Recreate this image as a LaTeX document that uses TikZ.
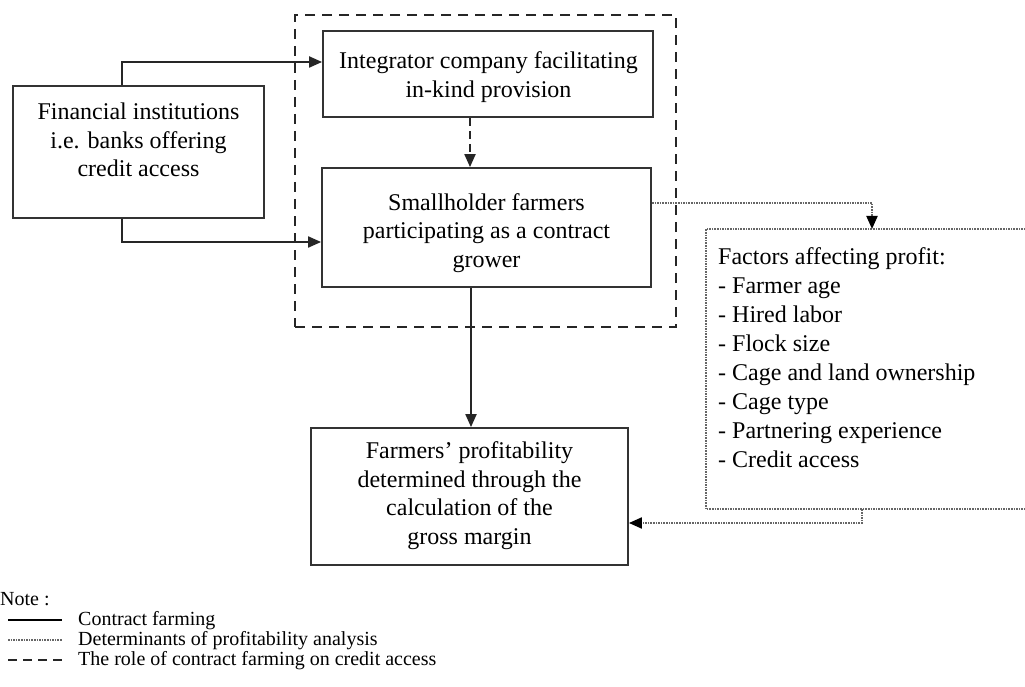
\documentclass[tikz,border=0pt]{standalone}
\usepackage{fontspec}
\setmainfont{Liberation Serif}
\usetikzlibrary{arrows.meta}
\begin{document}
\begin{tikzpicture}[x=1pt,y=-1pt,
  box/.style={draw=black!80, line width=1.8pt, inner sep=0pt},
  txt/.style={align=center, inner sep=0pt, font=\fontsize{24}{28.5}\selectfont},
  listtxt/.style={align=left, inner sep=0pt, anchor=west, font=\fontsize{24}{29}\selectfont},
  legtxt/.style={inner sep=0pt, anchor=west, text height=13pt, text depth=3pt, font=\fontsize{20}{20}\selectfont},
  tip/.style={-{Triangle[length=13pt,width=11pt]}},
  solidarrow/.style={tip, draw=black!85, line width=2pt},
  dasharrow/.style={tip, draw=black!85, line width=2pt, dash pattern=on 8pt off 5pt},
  dotline/.style={draw=black!60, line width=2pt, dash pattern=on 1.6pt off 1pt},
  dotarrow/.style={dotline, -{Triangle[length=13pt,width=11pt,black]}},
  groupbox/.style={draw=black!85, line width=2.5pt, dash pattern=on 10pt off 7pt, inner sep=0pt}
]
\useasboundingbox (0,0) rectangle (1025,687);

% group (dashed) box
\node[groupbox, minimum width=381pt, minimum height=312pt] (grp) at (485.5,171) {};

% boxes
\node[box, minimum width=251pt, minimum height=132pt] (fin) at (138.5,152) {};
\node[txt] (fint) at (138.5,140) {Financial institutions\\i.e. banks offering\\credit access};

\node[box, fill=white, minimum width=330pt, minimum height=86pt] (int) at (488,74) {};
\node[txt] (intt) at (488.5,77) {Integrator company facilitating\\in-kind provision};

\node[box, fill=white, minimum width=329pt, minimum height=119pt] (sm) at (486.5,227.5) {};
\node[txt] (smt) at (486.5,233) {Smallholder farmers\\participating as a contract\\grower};

\node[box, minimum width=317pt, minimum height=137pt] (pr) at (469.5,496.5) {};
\node[txt] (prt) at (469.5,495.5) {Farmers’ profitability\\determined through the\\calculation of the\\gross margin};

% factors box (open to the right edge)
\node[inner sep=0pt, anchor=north west, minimum width=319pt, minimum height=280pt] (fac) at (706,229) {};
\draw[dotline] (fac.north east) -- (fac.north west) -- (fac.south west) -- (fac.south east);
\node[listtxt] (fact) at (718,358) {Factors affecting profit:\\- Farmer age\\- Hired labor\\- Flock size\\- Cage and land ownership\\- Cage type\\- Partnering experience\\- Credit access};

% connectors
\coordinate (f1) at (122,62);
\coordinate (f2) at (122,242);
\draw[solidarrow] (fin.north -| f1) -- (f1) -- (int.west |- f1);
\draw[solidarrow] (fin.south -| f2) -- (f2) -- (sm.west |- f2);

\coordinate (c1) at (470,0);
\draw[dasharrow] (int.south -| c1) -- (sm.north -| c1);

\coordinate (c2) at (471,0);
\draw[solidarrow] (sm.south -| c2) -- (pr.north -| c2);

\coordinate (d1) at (872,203);
\draw[dotarrow] (sm.east |- d1) -- (d1) -- (d1 |- fac.north);

\coordinate (d2) at (862,523);
\draw[dotarrow] (fac.south -| d2) -- (d2) -- (pr.east |- d2);

% legend
\node[legtxt] (note) at (0,600) {Note :};
\coordinate (l1a) at (8,620); \coordinate (l1b) at (62,620);
\coordinate (l2a) at (8,640); \coordinate (l2b) at (62,640);
\coordinate (l3a) at (8,660); \coordinate (l3b) at (62,660);
\draw[draw=black, line width=2pt] (l1a) -- (l1b);
\draw[dotline, line width=1.6pt] (l2a) -- (l2b);
\draw[draw=black!85, line width=2pt, dash pattern=on 9pt off 6pt] (l3a) -- (l3b);
\node[legtxt] (lg1) at (78,620) {Contract farming};
\node[legtxt] (lg2) at (78,640) {Determinants of profitability analysis};
\node[legtxt] (lg3) at (78,660) {The role of contract farming on credit access};
\end{tikzpicture}
\end{document}
